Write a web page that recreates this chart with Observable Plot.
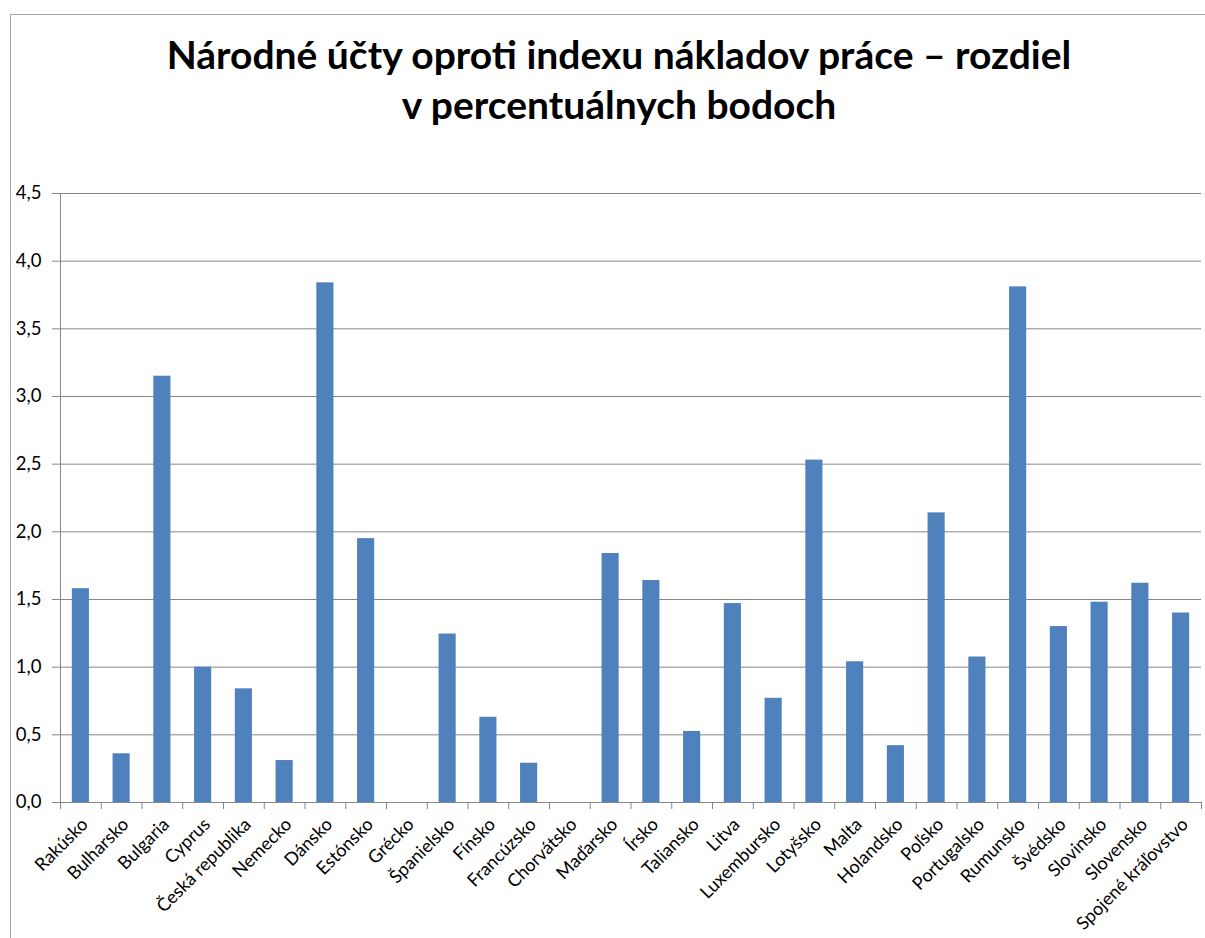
<!DOCTYPE html>
<html><head><meta charset="utf-8">
<script src="https://cdn.jsdelivr.net/npm/d3@7"></script>
<script src="https://cdn.jsdelivr.net/npm/@observablehq/plot@0.6"></script>
<style>
body{margin:0;background:#fff;}
#wrap{position:relative;width:1205px;height:938px;overflow:hidden;font-family:Lato,"Open Sans",sans-serif}
#border{position:absolute;left:10px;top:14px;width:1400px;height:1200px;border:1px solid #a6a6a6;box-sizing:border-box}
#title{position:absolute;left:10px;width:1218px;top:29px;text-align:center;font-weight:bold;font-size:39px;line-height:50px;color:#000}
#chart{position:absolute;left:0;top:0}
</style></head>
<body>
<div id="wrap">
  <div id="border"></div>
  <div id="chart"></div>
  <div id="title">Národné účty oproti indexu nákladov práce – rozdiel<br>v percentuálnych bodoch</div>
</div>
<script>
const countries = ["Rakúsko","Bulharsko","Bulgaria","Cyprus","Česká republika","Nemecko","Dánsko","Estónsko","Grécko","Španielsko","Fínsko","Francúzsko","Chorvátsko","Maďarsko","Írsko","Taliansko","Litva","Luxembursko","Lotyšsko","Malta","Holandsko","Poľsko","Portugalsko","Rumunsko","Švédsko","Slovinsko","Slovensko","Spojené kráľovstvo"];
const values = [1.58,0.36,3.15,1.00,0.84,0.31,3.84,1.95,0,1.245,0.63,0.29,0,1.84,1.64,0.525,1.47,0.77,2.53,1.04,0.42,2.14,1.075,3.81,1.30,1.48,1.62,1.40];
const yTicks = [0,0.5,1,1.5,2,2.5,3,3.5,4,4.5];

const data = countries.map((c,i)=>({country:c, value:values[i]}));
const W = 1205, H = 938, mL = 60, mR = 4, mT = 193, mB = 136;
const step = (W - mL - mR) / countries.length;
const gray = "#868686";
const fmt = d => d.toFixed(1).replace(".", ",");

const chart = Plot.plot({
  width: W, height: H,
  marginLeft: mL, marginRight: mR, marginTop: mT, marginBottom: mB,
  style: {fontFamily: "Lato, 'Open Sans', sans-serif", background: "transparent"},
  x: {domain: countries, paddingInner: 0.58, paddingOuter: 0.29, round: false, label: null},
  y: {domain: [0, 4.5], label: null},
  marks: [
    Plot.gridY(yTicks, {stroke: gray, strokeOpacity: 1, strokeWidth: 1}),
    Plot.barY(data, {x: "country", y: "value", fill: "#4F81BD"}),
    Plot.ruleX([countries[0]], {dx: -step/2, y1: 0, y2: 4.5, stroke: gray}),
    Plot.ruleX(countries, {dx: -step/2, y1: 0, y2: 0, insetBottom: -7, stroke: gray}),
    Plot.ruleX([countries[countries.length-1]], {dx: step/2, y1: 0, y2: 0, insetBottom: -7, stroke: gray}),
    Plot.axisY(yTicks, {tickSize: 8, tickPadding: 11, stroke: gray, tickFormat: fmt, fontSize: 18.5, fill: "#000"}),
    Plot.axisX({tickSize: 0, tickRotate: -45, tickPadding: 19, dx: 4, fontSize: 18, fill: "#000"})
  ]
});
document.getElementById("chart").appendChild(chart);
</script>
</body></html>
